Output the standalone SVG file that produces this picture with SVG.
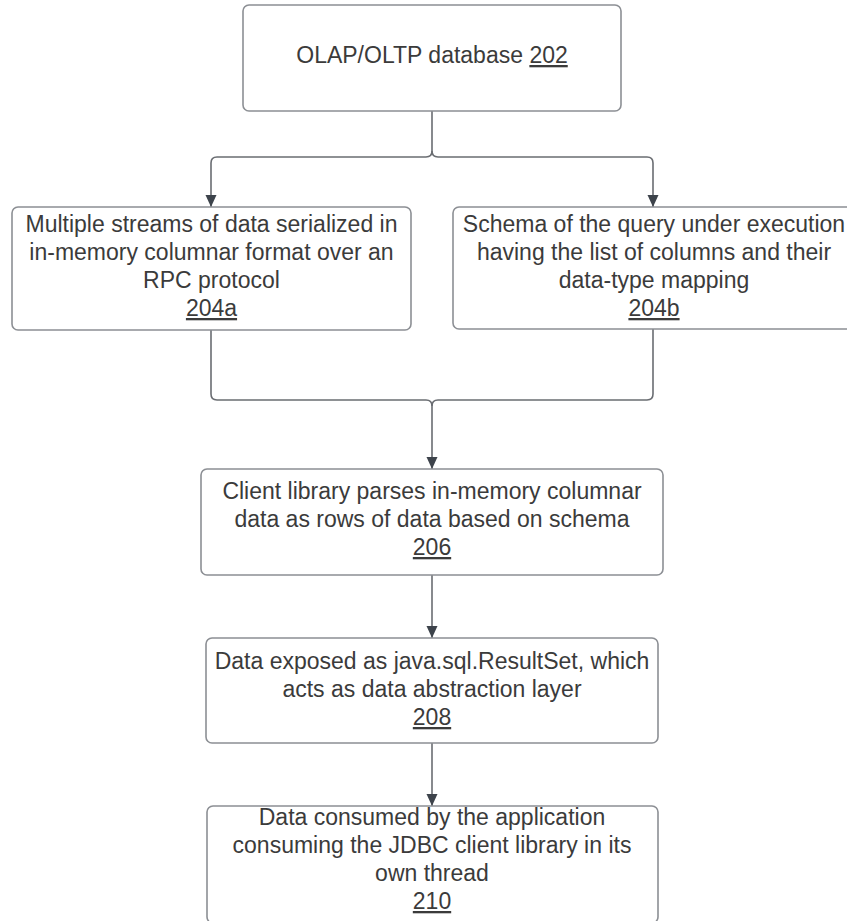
<svg xmlns="http://www.w3.org/2000/svg" width="847" height="921" viewBox="0 0 847 921">
  <style>
    .box { fill: #ffffff; stroke: #8c8f94; stroke-width: 1.6; }
    .lbl { font-family: "Liberation Sans", Arial, sans-serif; font-size: 23px; fill: #3b3b3b; text-anchor: middle; }
    .ref { text-decoration: underline; }
    .edge { fill: none; stroke: #6a6d72; stroke-width: 1.6; }
  </style>
  <defs>
    <marker id="arrow" markerUnits="userSpaceOnUse" markerWidth="12" markerHeight="12" refX="12" refY="6" orient="auto">
      <path d="M0,0.5 L12,6 L0,11.5 z" fill="#3d434b"/>
    </marker>
  </defs>
  <rect x="0" y="0" width="847" height="921" fill="#ffffff"/>

  <g id="connectors">
    <!-- database fans out to the two inputs -->
    <path class="edge" d="M432,111 V151 Q432,157 426,157 H217 Q211,157 211,163 V207" marker-end="url(#arrow)"/>
    <path class="edge" d="M432,151 Q432,157 438,157 H647 Q653,157 653,163 V207" marker-end="url(#arrow)"/>
    <!-- both inputs merge into the client library -->
    <path class="edge" d="M211,330 V394 Q211,400 217,400 H426 Q432,400 432,406 V469" marker-end="url(#arrow)"/>
    <path class="edge" d="M653,329 V394 Q653,400 647,400 H438 Q432,400 432,406"/>
    <!-- linear chain -->
    <path class="edge" d="M432,575 V638" marker-end="url(#arrow)"/>
    <path class="edge" d="M432,743 V806" marker-end="url(#arrow)"/>
  </g>

  <g id="n202">
    <rect class="box" x="243" y="5" width="378" height="106" rx="6"/>
    <text class="lbl" x="432" y="63">OLAP/OLTP database <tspan class="ref">202</tspan></text>
  </g>

  <g id="n204a">
    <rect class="box" x="12" y="207" width="399" height="123" rx="6"/>
    <text class="lbl" x="211.5" y="232">Multiple streams of data serialized in</text>
    <text class="lbl" x="211.5" y="260">in-memory columnar format over an</text>
    <text class="lbl" x="211.5" y="288">RPC protocol</text>
    <text class="lbl ref" x="211.5" y="316">204a</text>
  </g>

  <g id="n204b">
    <rect class="box" x="453" y="207" width="402" height="122" rx="6"/>
    <text class="lbl" x="654" y="232">Schema of the query under execution</text>
    <text class="lbl" x="654" y="260">having the list of columns and their</text>
    <text class="lbl" x="654" y="288">data-type mapping</text>
    <text class="lbl ref" x="654" y="316">204b</text>
  </g>

  <g id="n206">
    <rect class="box" x="201" y="469" width="462" height="106" rx="6"/>
    <text class="lbl" x="432" y="499">Client library parses in-memory columnar</text>
    <text class="lbl" x="432" y="527">data as rows of data based on schema</text>
    <text class="lbl ref" x="432" y="555">206</text>
  </g>

  <g id="n208">
    <rect class="box" x="206" y="638" width="452" height="105" rx="6"/>
    <text class="lbl" x="432" y="669">Data exposed as java.sql.ResultSet, which</text>
    <text class="lbl" x="432" y="697">acts as data abstraction layer</text>
    <text class="lbl ref" x="432" y="725">208</text>
  </g>

  <g id="n210">
    <rect class="box" x="207" y="806" width="451" height="117" rx="6"/>
    <text class="lbl" x="432" y="825">Data consumed by the application</text>
    <text class="lbl" x="432" y="853">consuming the JDBC client library in its</text>
    <text class="lbl" x="432" y="881">own thread</text>
    <text class="lbl ref" x="432" y="909">210</text>
  </g>
</svg>
